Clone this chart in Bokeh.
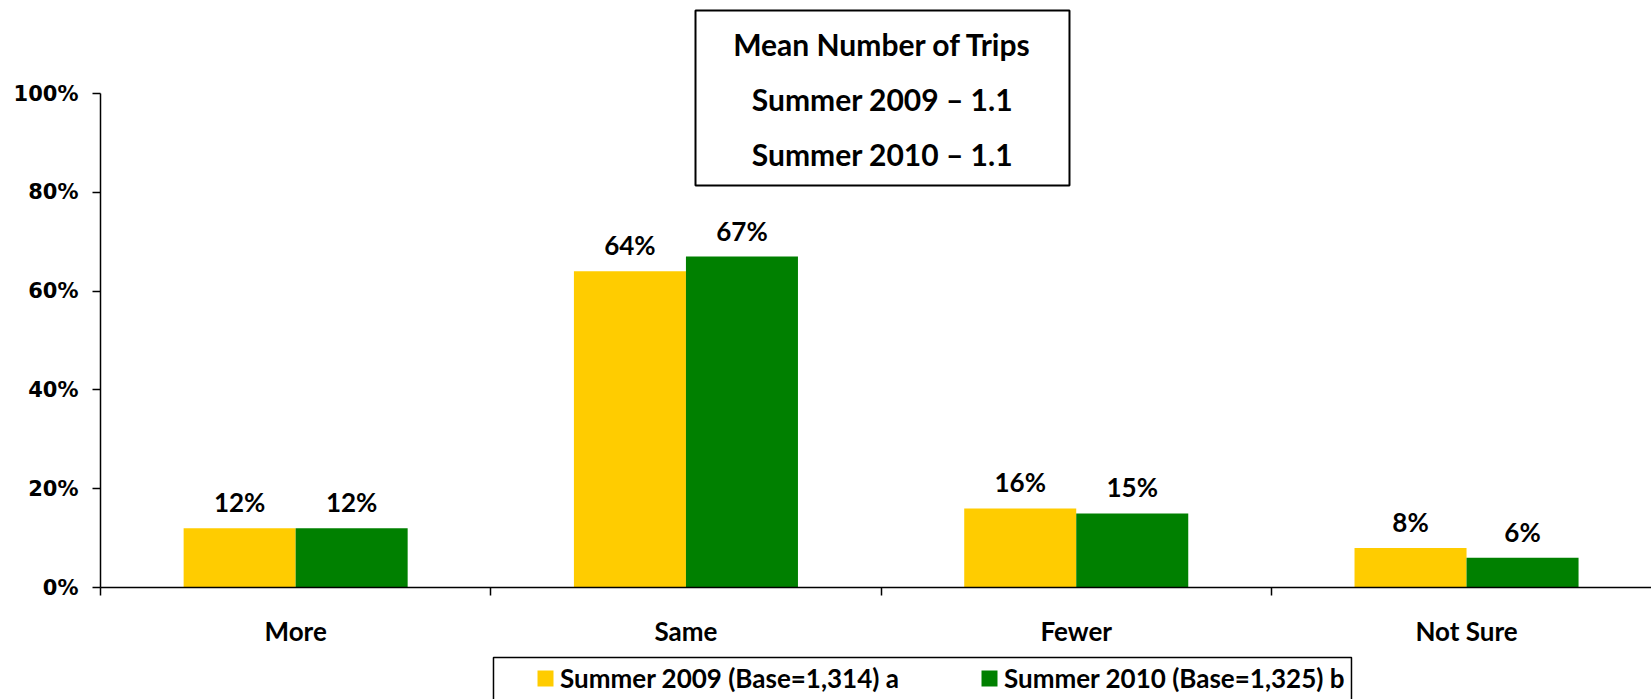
from bokeh.plotting import figure
from bokeh.models import (Range1d, FixedTicker, BoxAnnotation, Label, Legend,
                          LegendItem, ColumnDataSource)
from bokeh.transform import dodge
from bokeh.core.properties import value
from bokeh.embed import file_html
from bokeh.resources import INLINE

# ---------------- data ----------------
categories = ["More", "Same", "Fewer", "Not Sure"]
summer_2009 = [12, 64, 16, 8]
summer_2010 = [12, 67, 15, 6]
series_names = ["Summer 2009 (Base=1,314) a", "Summer 2010 (Base=1,325) b"]
y_ticks = [0, 20, 40, 60, 80, 100]
y_tick_labels = ["0%", "20%", "40%", "60%", "80%", "100%"]
box_lines = ["Mean Number of Trips", "Summer 2009 \u2013 1.1", "Summer 2010 \u2013 1.1"]

YELLOW = "#FFCC00"
GREEN = "#008000"
FONT = "Lato"

idx = list(range(len(categories)))
src = ColumnDataSource(dict(
    x=idx,
    a=summer_2009,
    b=summer_2010,
    la=[f"{v}%" for v in summer_2009],
    lb=[f"{v}%" for v in summer_2010],
))

W, H = 1651, 699
p = figure(width=W, height=H, title=None,
           x_range=Range1d(-0.7562, 3.4739), y_range=Range1d(-22.67, 118.83),
           output_backend="svg", toolbar_location=None,
           min_border=0)
p.grid.visible = False
p.outline_line_color = None
p.background_fill_color = "white"

BW = 0.287
off = BW / 2
r1 = p.vbar(x=dodge("x", -off, range=p.x_range), top="a", width=BW, source=src,
            fill_color=YELLOW, line_color=None)
r2 = p.vbar(x=dodge("x", off, range=p.x_range), top="b", width=BW, source=src,
            fill_color=GREEN, line_color=None)

for col, lab, o in (("a", "la", -off), ("b", "lb", off)):
    p.text(x=dodge("x", o, range=p.x_range), y=col, text=lab, source=src,
           text_align="center", text_baseline="middle", y_offset=-26,
           text_font=value(FONT), text_font_style="bold",
           text_font_size="26px", text_color="black")

# y axis
ya = p.yaxis[0]
ya.fixed_location = -0.5
ya.ticker = FixedTicker(ticks=y_ticks)
ya.major_label_overrides = {t: l for t, l in zip(y_ticks, y_tick_labels)}
ya.bounds = (0, 100)
ya.major_tick_out = 8
ya.major_tick_in = 0
ya.minor_tick_out = 0
ya.minor_tick_in = 0
ya.axis_line_color = "black"
ya.axis_line_width = 1.5
ya.major_tick_line_color = "black"
ya.major_tick_line_width = 1.5
ya.major_label_text_font = "DejaVu Sans"
ya.major_label_text_font_style = "bold"
ya.major_label_text_font_size = "21px"
ya.major_label_text_color = "black"
ya.major_label_standoff = 14

# x axis
xa = p.xaxis[0]
xa.fixed_location = 0
xa.ticker = FixedTicker(ticks=idx, minor_ticks=[i - 0.5 for i in range(len(categories) + 1)])
xa.major_label_overrides = {i: c for i, c in zip(idx, categories)}
xa.bounds = (-0.5, 3.4739)
xa.major_tick_out = 0
xa.major_tick_in = 0
xa.minor_tick_out = 8
xa.minor_tick_in = 0
xa.minor_tick_line_color = "black"
xa.minor_tick_line_width = 1.5
xa.axis_line_color = "black"
xa.axis_line_width = 1.5
xa.major_label_text_font = FONT
xa.major_label_text_font_style = "bold"
xa.major_label_text_font_size = "26px"
xa.major_label_text_color = "black"
xa.major_label_standoff = 19

# mean box
p.add_layout(BoxAnnotation(left=1.0245, right=1.9827, top=116.81, bottom=81.38,
                           fill_color="white", fill_alpha=1.0,
                           line_color="black", line_alpha=1.0, line_width=2))
for txt, yv in zip(box_lines, (110.12, 98.99, 87.85)):
    p.add_layout(Label(x=1.5036, y=yv, text=txt, text_align="center",
                       text_baseline="middle", text_font=FONT,
                       text_font_style="bold", text_font_size="30px",
                       text_color="black"))

# legend
p.add_layout(BoxAnnotation(left=0.5069, right=2.7052, top=-14.17, bottom=-25,
                           fill_alpha=0, line_color="black", line_alpha=1.0,
                           line_width=1.5))
legend = Legend(items=[LegendItem(label=series_names[0], renderers=[r1]),
                       LegendItem(label=series_names[1], renderers=[r2])],
                orientation="horizontal", location=(535, 5),
                padding=0, spacing=80, glyph_width=20, glyph_height=20,
                label_standoff=5, border_line_color=None,
                background_fill_alpha=0,
                label_text_font=FONT, label_text_font_style="bold",
                label_text_font_size="26px", label_text_color="black")
p.add_layout(legend, "center")

open("out.html", "w").write(file_html(p, INLINE))
